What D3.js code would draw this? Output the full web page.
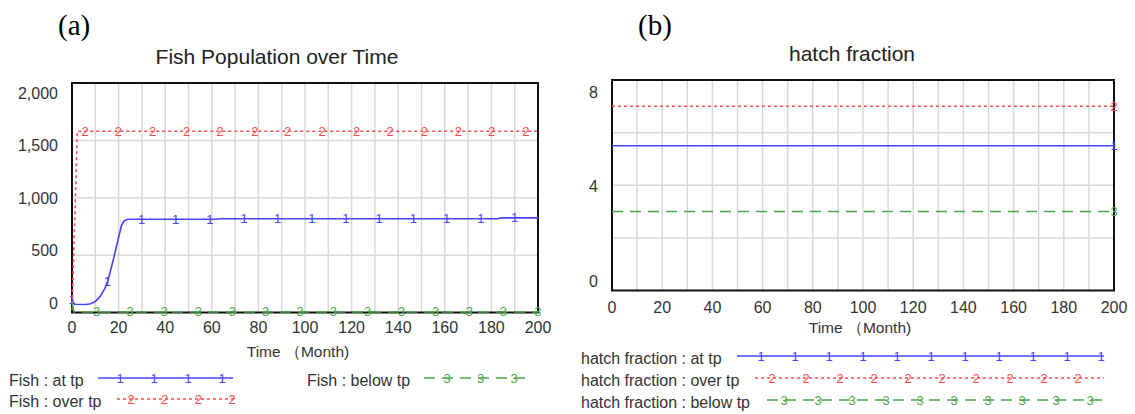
<!DOCTYPE html>
<html lang="en">
<head>
<meta charset="UTF-8">
<title>Fish Population / hatch fraction</title>
<script src="https://d3js.org/d3.v7.min.js"></script>
<style>
  body { margin: 0; background: #fff; }
  svg text { font-family: "Liberation Sans", Arial, sans-serif; fill: #333; }
  .grid line { stroke: #d8d8d8; stroke-width: 1.5px; }
  .frame { fill: none; stroke: #111; stroke-width: 2px; }
  .tick-label { font-size: 16px; }
  .title { font-size: 21px; fill: #222; }
  .axis-title { font-size: 15.5px; }
  .panel-tag { font-family: "Liberation Serif", "Times New Roman", serif; font-size: 29px; }
  .mark { font-size: 13px; text-anchor: middle; dominant-baseline: central; }
  .legend { font-size: 16px; }
</style>
</head>
<body>
<svg id="chart" width="1135" height="414"></svg>
<script>
// ---- data ----
// (a) Fish population, [month, fish]
const fishAtTp = [[0,115],[1,72],[6,70],[8,76],[10,95],[12,138],[14,205],[15.6,290],[17.7,458],
                  [19.9,647],[21.3,763],[22.5,800],[24,812],[62,812],[63,817],[183,817],[184,825],[200,825]];
const fishOverTp = [[0,20],[2.3,1580],[200,1580]];
const fishBelowTp = [[0,90],[0.8,5],[200,5]];
// months where Vensim put the series numbers
const fishAtTpMarks = [0,15.2,29.9,44.5,59.2,73.9,88.2,103,117.5,131.8,146.5,160.8,175.5,190];
const fishOverTpMarks = [5.6,19.9,34.6,49.2,63.5,78.5,92.5,107.4,122.2,136.5,151.2,165.8,180.1,194.8];
const fishBelowTpMarks = [10.6,24.9,39.6,54.2,68.8,83.1,97.9,112.2,126.9,141.5,156.1,170.5,185.1,199.9];

// (b) hatch fraction
const hatchAtTp = [[0,5.5],[200,5.5]];
const hatchOverTp = [[0,7.0],[200,7.0]];
const hatchBelowTp = [[0,3.0],[200,3.0]];
const hatchMarks = [200];

const monthTicks = [0,20,40,60,80,100,120,140,160,180,200];
const fishTicks = [0,500,1000,1500,2000];
const hatchTicks = [0,4,8];

const fishLegend = ["Fish : at tp", "Fish : over tp", "Fish : below tp"];
const hatchLegend = ["hatch fraction : at tp", "hatch fraction : over tp", "hatch fraction : below tp"];

// ---- styles per series ----
const seriesStyle = [
  { color: "#4646ff", dash: null, num: "1" },
  { color: "#ff4a4a", dash: "3,3", num: "2" },
  { color: "#46a846", dash: "11,7", num: "3" }
];

const svg = d3.select("#chart");
svg.append("rect").attr("width", 1135).attr("height", 414).attr("fill", "#fff");

function valueAt(series, t) {
  const i = d3.bisector(d => d[0]).left(series, t);
  if (i <= 0) return series[0][1];
  if (i >= series.length) return series[series.length - 1][1];
  const a = series[i - 1], b = series[i];
  return a[1] + (b[1] - a[1]) * (t - a[0]) / (b[0] - a[0]);
}

function drawPanel(p) {
  const g = svg.append("g");
  const x = d3.scaleLinear().domain([0, 200]).range([p.left, p.right]);
  const y = d3.scaleLinear().domain(p.yDomain).range([p.bottom, p.top]);
  // tick labels sit a bit inside the frame, like in Vensim
  const yLab = d3.scaleLinear().domain(p.yDomain).range([p.bottom - p.labInset[0], p.top + p.labInset[1]]);

  const grid = g.append("g").attr("class", "grid");
  grid.selectAll(".vx").data(d3.range(10, 200, 10)).join("line")
    .attr("x1", d => x(d)).attr("x2", d => x(d))
    .attr("y1", p.top).attr("y2", p.bottom);
  grid.selectAll(".hy").data(p.yGrid).join("line")
    .attr("x1", p.left).attr("x2", p.right)
    .attr("y1", d => y(d)).attr("y2", d => y(d));

  g.append("rect").attr("class", "frame")
    .attr("x", p.left).attr("y", p.top)
    .attr("width", p.right - p.left).attr("height", p.bottom - p.top);

  g.selectAll(".ylab").data(p.yTicks).join("text")
    .attr("class", "tick-label")
    .attr("x", p.left - 14).attr("y", d => yLab(d))
    .attr("text-anchor", "end").attr("dominant-baseline", "central")
    .text(p.yFormat);

  g.selectAll(".xlab").data(monthTicks).join("text")
    .attr("class", "tick-label")
    .attr("x", d => x(d)).attr("y", p.bottom + p.xLabGap)
    .attr("text-anchor", "middle").attr("dominant-baseline", "central")
    .text(d => d);

  g.append("text").attr("class", "axis-title")
    .attr("x", p.xTitle[0]).attr("y", p.xTitle[1])
    .attr("text-anchor", "middle").attr("dominant-baseline", "central")
    .text("Time （Month)");

  g.append("text").attr("class", "title")
    .attr("x", p.title[0]).attr("y", p.title[1])
    .attr("text-anchor", "middle").attr("dominant-baseline", "central")
    .text(p.titleText);

  g.append("text").attr("class", "panel-tag")
    .attr("x", p.tag[0]).attr("y", p.tag[1])
    .attr("dominant-baseline", "central")
    .style("fill", "#000")
    .text(p.tagText);

  const line = d3.line().x(d => x(d[0])).y(d => y(d[1]));
  p.series.forEach((s, i) => {
    const st = seriesStyle[i];
    g.append("path").datum(s.data)
      .attr("d", line)
      .attr("fill", "none")
      .attr("stroke", st.color)
      .attr("stroke-width", 1.6)
      .attr("stroke-dasharray", st.dash);
    g.selectAll(".m" + i).data(s.marks).join("text")
      .attr("class", "mark")
      .attr("x", d => x(d)).attr("y", d => y(valueAt(s.data, d)))
      .style("fill", st.color)
      .text(st.num);
  });

  // legend: label, sample line, numbered marks
  p.legend.forEach((lg, i) => {
    const st = seriesStyle[i];
    g.append("text").attr("class", "legend")
      .attr("x", lg.x).attr("y", lg.y)
      .attr("dominant-baseline", "central")
      .text(p.legendText[i]);
    g.append("line")
      .attr("x1", lg.x1).attr("x2", lg.x2)
      .attr("y1", lg.y - 2).attr("y2", lg.y - 2)
      .attr("stroke", st.color).attr("stroke-width", 1.6)
      .attr("stroke-dasharray", st.dash);
    g.selectAll(".lm" + i).data(d3.range(lg.n)).join("text")
      .attr("class", "mark")
      .attr("x", k => lg.m0 + k * lg.dm)
      .attr("y", lg.y - 2)
      .style("fill", st.color)
      .text(st.num);
  });
}

drawPanel({
  left: 72, right: 538, top: 83, bottom: 312.5,
  yDomain: [0, 2000], yGrid: [500, 1000, 1500], yTicks: fishTicks,
  yFormat: d3.format(","), labInset: [9, 10], xLabGap: 15,
  xTitle: [298, 351], title: [277, 56], titleText: "Fish Population over Time",
  tag: [58, 25], tagText: "(a)",
  series: [
    { data: fishAtTp, marks: fishAtTpMarks },
    { data: fishOverTp, marks: fishOverTpMarks },
    { data: fishBelowTp, marks: fishBelowTpMarks }
  ],
  legendText: fishLegend,
  legend: [
    { x: 9, y: 380, x1: 98, x2: 233, m0: 120, dm: 34, n: 4 },
    { x: 9, y: 401, x1: 117, x2: 236, m0: 131, dm: 33.7, n: 4 },
    { x: 307, y: 380, x1: 424, x2: 530, m0: 447, dm: 33.5, n: 3 }
  ]
});

drawPanel({
  left: 612, right: 1114, top: 80, bottom: 290.5,
  yDomain: [0, 8], yGrid: [2, 4, 6], yTicks: hatchTicks,
  yFormat: d3.format("d"), labInset: [9, 12], xLabGap: 17,
  xTitle: [860, 327], title: [852, 53], titleText: "hatch fraction",
  tag: [638, 25], tagText: "(b)",
  series: [
    { data: hatchAtTp, marks: hatchMarks },
    { data: hatchOverTp, marks: hatchMarks },
    { data: hatchBelowTp, marks: hatchMarks }
  ],
  legendText: hatchLegend,
  legend: [
    { x: 581, y: 358, x1: 737, x2: 1104, m0: 761, dm: 34, n: 11 },
    { x: 581, y: 380, x1: 755, x2: 1104, m0: 772, dm: 34, n: 10 },
    { x: 581, y: 402, x1: 767, x2: 1104, m0: 784, dm: 34, n: 10 }
  ]
});
</script>
</body>
</html>
